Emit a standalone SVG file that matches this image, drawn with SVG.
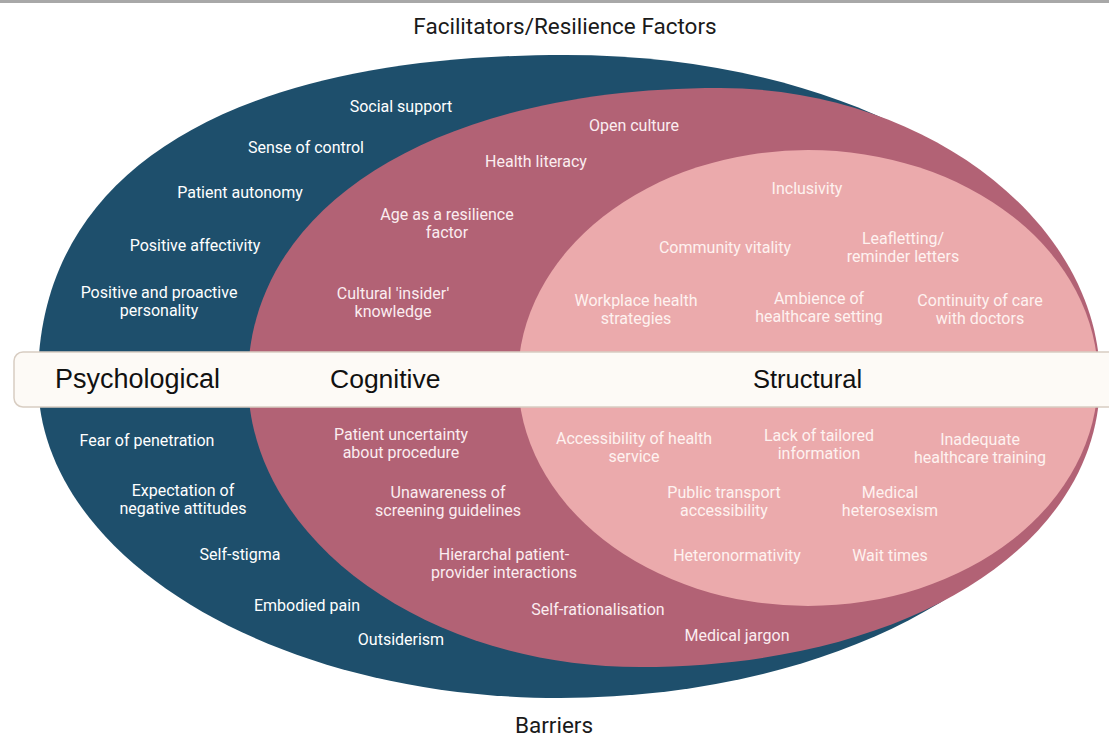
<svg xmlns="http://www.w3.org/2000/svg" width="1109" height="738" viewBox="0 0 1109 738">
  <style>
    .lbl { font-family: Roboto, "Liberation Sans", sans-serif; font-size: 16px; text-anchor: middle; }
    .psy { fill: #FFFFFF; }
    .cog { fill: #FBEDF0; }
    .str { fill: #FEF2F0; }
    .head { font-family: Roboto, "Liberation Sans", sans-serif; font-size: 22.5px; fill: #1A1A1A; text-anchor: middle; }
    .cat { font-family: "Liberation Sans", Arial, sans-serif; fill: #111111; }
  </style>

  <!-- frame line along the top -->
  <rect x="0" y="0" width="1109" height="3" fill="#A8A8A8"/>

  <text class="head" x="565" y="34">Facilitators/Resilience Factors</text>
  <text class="head" x="554" y="733">Barriers</text>

  <!-- outer region: psychological -->
  <g id="psychological">
    <path d="M38,380 C38,172 228,55 565,55 C863,55 1092,196 1092,380 C1092,556 854,698 560,698 C272,698 38,556 38,380 Z" fill="#1E4F6C"/>
  </g>

  <!-- middle region: cognitive -->
  <g id="cognitive">
    <path d="M248,380 C248,205 437,88 720,88 C925,88 1100,222 1100,380 C1100,546 907,667 640,667 C424,667 248,538 248,380 Z" fill="#B26275"/>
  </g>

  <!-- inner region: structural -->
  <g id="structural">
    <ellipse cx="808" cy="378" rx="290" ry="228" fill="#EBAAAC"/>
  </g>

  <!-- category band -->
  <g id="band">
    <rect x="14" y="352" width="1120" height="55" rx="9" fill="#FDFAF6" stroke="#D8CDC2" stroke-width="1.5"/>
    <text class="cat" x="55" y="388" font-size="27">Psychological</text>
    <text class="cat" x="330" y="388" font-size="26.5">Cognitive</text>
    <text class="cat" x="753" y="388" font-size="25.5">Structural</text>
  </g>

  <!-- psychological facilitators -->
  <g id="psy-facilitators" class="lbl psy">
    <text x="401" y="112">Social support</text>
    <text x="306" y="153">Sense of control</text>
    <text x="240" y="198">Patient autonomy</text>
    <text x="195" y="251">Positive affectivity</text>
    <text x="159" y="298">Positive and proactive</text>
    <text x="159" y="316">personality</text>
  </g>

  <!-- cognitive facilitators -->
  <g id="cog-facilitators" class="lbl cog">
    <text x="634" y="131">Open culture</text>
    <text x="536" y="167">Health literacy</text>
    <text x="447" y="220">Age as a resilience</text>
    <text x="447" y="238">factor</text>
    <text x="393" y="299">Cultural 'insider'</text>
    <text x="393" y="317">knowledge</text>
  </g>

  <!-- structural facilitators -->
  <g id="str-facilitators" class="lbl str">
    <text x="807" y="194">Inclusivity</text>
    <text x="725" y="253">Community vitality</text>
    <text x="903" y="244">Leafletting/</text>
    <text x="903" y="262">reminder letters</text>
    <text x="636" y="306">Workplace health</text>
    <text x="636" y="324">strategies</text>
    <text x="819" y="304">Ambience of</text>
    <text x="819" y="322">healthcare setting</text>
    <text x="980" y="306">Continuity of care</text>
    <text x="980" y="324">with doctors</text>
  </g>

  <!-- psychological barriers -->
  <g id="psy-barriers" class="lbl psy">
    <text x="147" y="446">Fear of penetration</text>
    <text x="183" y="496">Expectation of</text>
    <text x="183" y="514">negative attitudes</text>
    <text x="240" y="560">Self-stigma</text>
    <text x="307" y="611">Embodied pain</text>
    <text x="401" y="645">Outsiderism</text>
  </g>

  <!-- cognitive barriers -->
  <g id="cog-barriers" class="lbl cog">
    <text x="401" y="440">Patient uncertainty</text>
    <text x="401" y="458">about procedure</text>
    <text x="448" y="498">Unawareness of</text>
    <text x="448" y="516">screening guidelines</text>
    <text x="504" y="560">Hierarchal patient-</text>
    <text x="504" y="578">provider interactions</text>
    <text x="598" y="615">Self-rationalisation</text>
    <text x="737" y="641">Medical jargon</text>
  </g>

  <!-- structural barriers -->
  <g id="str-barriers" class="lbl str">
    <text x="634" y="444">Accessibility of health</text>
    <text x="634" y="462">service</text>
    <text x="819" y="441">Lack of tailored</text>
    <text x="819" y="459">information</text>
    <text x="980" y="445">Inadequate</text>
    <text x="980" y="463">healthcare training</text>
    <text x="724" y="498">Public transport</text>
    <text x="724" y="516">accessibility</text>
    <text x="890" y="498">Medical</text>
    <text x="890" y="516">heterosexism</text>
    <text x="737" y="561">Heteronormativity</text>
    <text x="890" y="561">Wait times</text>
  </g>
</svg>
